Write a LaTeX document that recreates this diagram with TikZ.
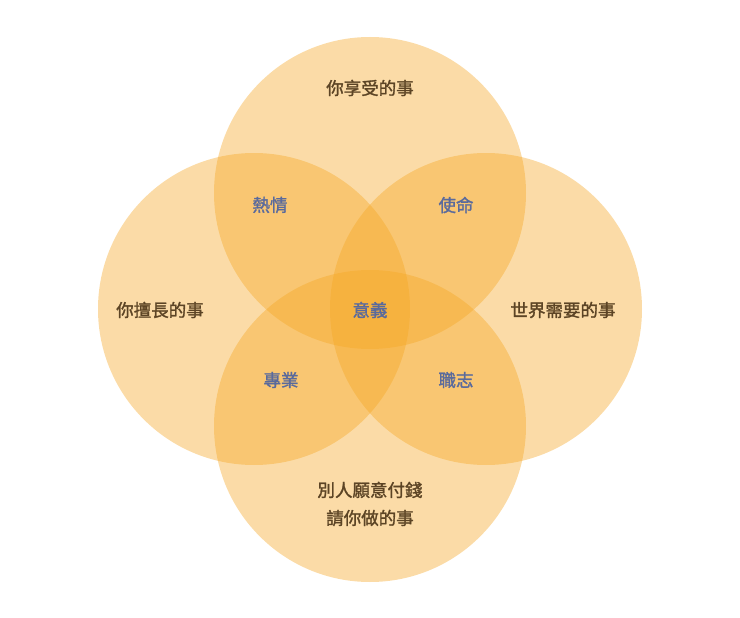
\documentclass[tikz,border=0pt]{standalone}
\usepackage{fontspec}
\setmainfont{Noto Sans CJK TC}[FakeBold=1.6]
\usetikzlibrary{positioning}
\definecolor{ring}{HTML}{F5A623}
\definecolor{outertext}{HTML}{5C4425}
\definecolor{innertext}{HTML}{5A6A9C}
\begin{document}
\begin{tikzpicture}[x=1pt,y=-1pt,font=\fontsize{17.5}{28}\selectfont,
 area/.style={circle, fill=ring, fill opacity=0.4, draw=none, minimum size=312pt, inner sep=0pt},
 outer/.style={text=outertext, align=center},
 inner/.style={text=innertext}]
            \useasboundingbox (0,0) rectangle (740,618);
            % the four circles
            \node[area] (enjoy) at (370,193) {};
            \node[area] (good) at (254,309) {};
            \node[area] (need) at (486,309) {};
            \node[area] (paid) at (370,426) {};
            % outer labels
            \node[outer] (enjoy-txt) at (370,88) {你享受的事};
            \node[outer] (good-txt) at (160,310) {你擅長的事};
            \node[outer] (need-txt) at (563,310) {世界需要的事};
            \node[outer] (paid-txt) at (370,504) {別人願意付錢\\請你做的事};
            % overlaps
            \node[inner] (passion) at (270,205) {熱情};
            \node[inner] (mission) at (456,205) {使命};
            \node[inner] (ikigai) at (370,310) {意義};
            \node[inner] (profession) at (281,380) {專業};
            \node[inner] (vocation) at (456,380) {職志};
\end{tikzpicture}
\end{document}
